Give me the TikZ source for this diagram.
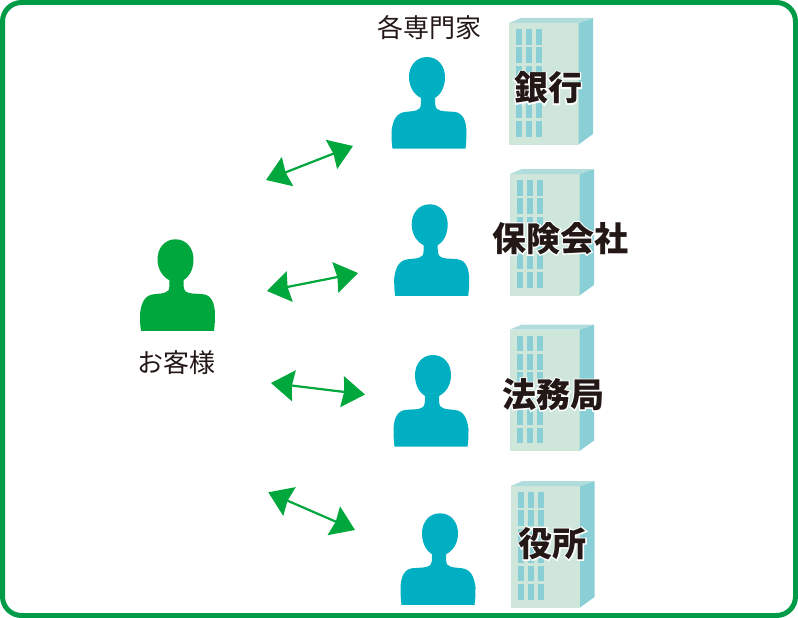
\documentclass[tikz,border=0pt]{standalone}
\usepackage{fontspec}
\usepackage{xcolor}
\usetikzlibrary{arrows.meta}
\newfontfamily\cjk{Noto Sans CJK JP}
\newcommand\halo[1]{\leavevmode\rlap{\special{pdf:code q 1 Tr 2.4 w 1 1 1 RG}#1\special{pdf:code Q}}#1}
\definecolor{frame}{RGB}{0,155,70}
\definecolor{client}{RGB}{0,167,60}
\definecolor{expert}{RGB}{0,175,193}
\definecolor{front}{RGB}{207,231,219}
\definecolor{side}{RGB}{139,207,214}
\definecolor{roof}{RGB}{176,220,220}
\definecolor{ink}{RGB}{35,24,21}
\tikzset{
    x=1pt,y=-1pt,
    person/.pic={
        \fill (-2,0) .. controls (9,0) and (16,9) .. (16,20) .. controls (16,31) and (11,38) .. (6,41)
            .. controls (6,46) and (6,50) .. (8,52) .. controls (12,55) and (17,54) .. (26,55)
            .. controls (34,56) and (37.5,64) .. (37.5,76) .. controls (37.5,82) and (37,88) .. (36.5,91.5)
            -- (-36.5,91.5) .. controls (-37.5,86) and (-37.5,80) .. (-37.5,74) .. controls (-36,62) and (-32,56) .. (-24,55)
            .. controls (-18,54) and (-13,55) .. (-9,51) .. controls (-8,49) and (-8,45) .. (-8,41)
            .. controls (-14,38) and (-20,31) .. (-20,20) .. controls (-20,9) and (-13,0) .. (-2,0) -- cycle;
    },
    building/.pic={
        \fill[front] (0,0) rectangle (69.5,121.5);
        \fill[side] (69.5,0) -- (84,-5) -- (84,111) -- (69.5,121.5) -- cycle;
        \fill[roof] (0,0) -- (12,-5) -- (84,-5) -- (69.5,0) -- cycle;
        \foreach \row in {6,24.4,42.8,61.2,79.6,98} {
            \foreach \col in {7,17,27} {
                \fill[side] (\col,\row) rectangle (\col+6,\row+15.7);
            }
        }
    },
    bothways/.style={draw=client,line width=2.2pt,{Stealth[length=23pt,width=31pt,inset=2pt]}-{Stealth[length=23pt,width=31pt,inset=2pt]}},
    small/.style={text=ink,inner sep=0pt,font=\cjk\fontsize{26}{26}\selectfont},
    big/.style={text=ink,inner sep=0pt,font=\cjk\bfseries\fontsize{34}{34}\selectfont},
}
\begin{document}
\begin{tikzpicture}
    \useasboundingbox (0,0) rectangle (798,618);
    \draw[frame,line width=5pt,rounded corners=19pt] (2.5,2.5) rectangle (795.5,615.5);
    % buildings
    \pic at (509,23) {building};
    \pic at (510,174) {building};
    \pic at (510,329.5) {building};
    \pic at (510.5,486) {building};
    % people
    \pic[fill=client] at (177.5,239.3) {person};
    \pic[fill=expert] at (429,57) {person};
    \pic[fill=expert] at (431.7,204.3) {person};
    \pic[fill=expert,xscale=-1] at (431,355) {person};
    \pic[fill=expert,xscale=-1] at (438,513.3) {person};
    % labels
    \node[small] (experts) at (429.5,28) {各専門家};
    \node[small] (customer) at (176,363) {お客様};
    \node[big] (bank) at (548,88) {\halo{銀行}};
    \node[big] (insurer) at (560,238.5) {\halo{保険会社}};
    \node[big] (legal) at (553,394.5) {\halo{法務局}};
    \node[big] (office) at (552.5,543.5) {\halo{役所}};
    % arrows
    \coordinate (a1) at (266,180);
    \coordinate (b1) at (353,146);
    \coordinate (a2) at (267,291);
    \coordinate (b2) at (358,273);
    \coordinate (a3) at (271,383);
    \coordinate (b3) at (365,394.5);
    \coordinate (a4) at (268.3,492.3);
    \coordinate (b4) at (355,530);
    \draw[bothways] (a1) -- (b1);
    \draw[bothways] (a2) -- (b2);
    \draw[bothways] (a3) -- (b3);
    \draw[bothways] (a4) -- (b4);
\end{tikzpicture}
\end{document}
